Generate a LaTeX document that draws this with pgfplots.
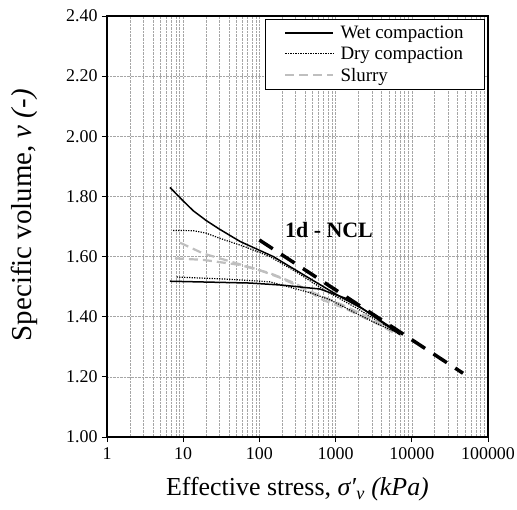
\documentclass[border=0pt]{standalone}
\usepackage{fontspec}
\setmainfont{Liberation Serif}
\usepackage{pgfplots}
\pgfplotsset{compat=1.18}
\definecolor{slurrygray}{HTML}{BFBFBF}
\begin{document}
\begin{tikzpicture}
\begin{axis}[
  xmode=log, scale only axis, width=381bp, height=421bp,
  xmin=1, xmax=100000, ymin=1, ymax=2.4,
  xtick={1,10,100,1000,10000,100000},
  xticklabels={1,10,100,1000,10000,100000},
  minor xtick={2,3,4,5,6,7,8,9,20,30,40,50,60,70,80,90,200,300,400,500,600,700,800,900,2000,3000,4000,5000,6000,7000,8000,9000,20000,30000,40000,50000,60000,70000,80000,90000},
  ytick={1,1.2,1.4,1.6,1.8,2.0,2.2,2.4},
  yticklabels={1.00,1.20,1.40,1.60,1.80,2.00,2.20,2.40},
  xmajorgrids, xminorgrids, ymajorgrids,
  major grid style={densely dotted, black!35, line width=0.6bp},
  minor grid style={densely dotted, black!35, line width=0.6bp},
  tick align=outside, xtick pos=bottom, ytick pos=left,
  major tick length=5bp, minor tick length=0pt,
  tick style={black, line width=0.8bp},
  axis line style={line width=1.6bp, black},
  tick label style={font=\fontsize{18}{21}\selectfont},
  xticklabel style={yshift=-2bp},
  yticklabel style={xshift=-1bp},
  xlabel={Effective stress, \textit{σ′}\textsubscript{\textit{v}} \textit{(kPa)}},
  ylabel={Specific volume, \textit{v (-)}},
  xlabel style={font=\fontsize{26}{30}\selectfont, at={(axis description cs:0.5,-0.125)}, anchor=center},
  ylabel style={font=\fontsize{29}{33}\selectfont, at={(axis description cs:-0.217,0.527)}, anchor=center},
  legend style={at={(rel axis cs:0.992,0.993)}, anchor=north east, draw=black, line width=0.8bp,
    font=\fontsize{19}{22}\selectfont, inner xsep=19bp, inner ysep=3bp, column sep=4bp,
    nodes={inner ysep=3.5bp}, legend cell align=left},
  legend image code/.code={\draw[#1] (0bp,0bp) -- (48bp,0bp);},
  clip=false,
]
\coordinate (sw) at (rel axis cs:0,0);
\coordinate (ne) at (rel axis cs:1,1);
% Wet compaction
\addplot[black, line width=1.5bp] coordinates {
 (6.7,1.830) (10,1.785) (13.6,1.752) (20,1.720) (30,1.691) (56,1.650) (152,1.600) (418,1.533) (1143,1.467) (2310,1.425) (7000,1.345)};
\addlegendentry{Wet compaction}
% Dry compaction
\addplot[black, line width=1.2bp, dash pattern=on 1.2bp off 1.3bp] coordinates {
 (7.4,1.687) (13.6,1.686) (20,1.678) (30,1.661) (64,1.633) (137,1.600) (300,1.550) (700,1.490) (2000,1.425) (6000,1.350)};
\addlegendentry{Dry compaction}
% Slurry
\addplot[slurrygray, line width=2.2bp, dash pattern=on 9bp off 5bp] coordinates {
 (9.1,1.646) (18.4,1.610) (40,1.585) (100,1.555) (186,1.530) (418,1.489) (1400,1.433) (3830,1.378) (5700,1.350)};
\addlegendentry{Slurry}
\addplot[forget plot, slurrygray, line width=2.2bp, dash pattern=on 9bp off 5bp] coordinates {
 (7.8,1.594) (18.4,1.589) (56,1.572) (137,1.545) (300,1.510) (680,1.456) (1400,1.425) (3830,1.372) (5700,1.348)};
\addplot[forget plot, black, line width=1.2bp, dash pattern=on 1.2bp off 1.3bp] coordinates {
 (8.2,1.532) (37,1.525) (137,1.516) (460,1.480) (850,1.456) (1540,1.422) (3000,1.385) (6000,1.350)};
\addplot[forget plot, black, line width=1.5bp] coordinates {
 (6.7,1.518) (22,1.515) (75,1.512) (200,1.505) (624,1.492) (1550,1.456) (3000,1.405) (7000,1.340)};
% 1d - NCL
\addplot[forget plot, black, line width=3.5bp, dash pattern=on 16bp off 10bp] coordinates {
 (100,1.655) (47000,1.212)};
\node[font=\fontsize{22}{26}\selectfont\bfseries] at (axis cs:819,1.688) {1d - NCL};
\end{axis}
\pgfresetboundingbox
\path ([shift={(-107bp,-73bp)}]sw) rectangle ([shift={(29bp,16bp)}]ne);
\end{tikzpicture}
\end{document}
